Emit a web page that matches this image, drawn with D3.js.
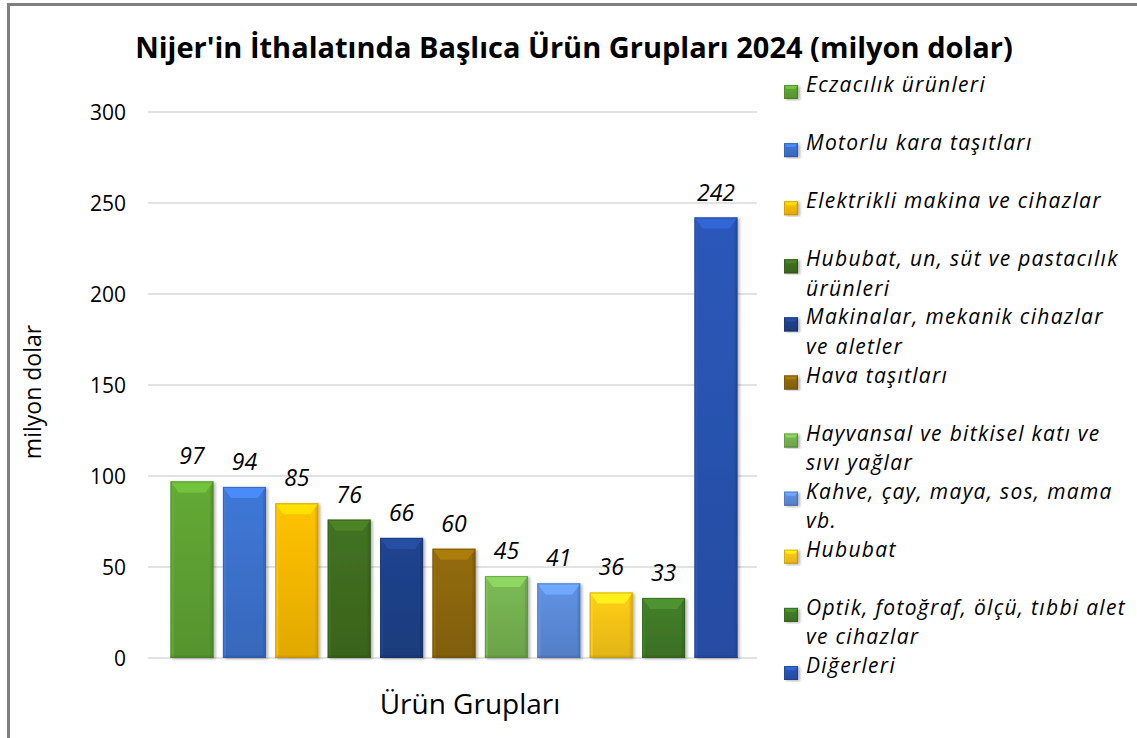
<!DOCTYPE html>
<html><head><meta charset="utf-8">
<script src="https://cdn.jsdelivr.net/npm/d3@7"></script>
<style>
html,body{margin:0;padding:0;background:#fff;}
svg{display:block;}
text{font-family:"Open Sans","Noto Sans",sans-serif;fill:#000;}
</style></head>
<body>
<script>
const categories = ["Eczacılık ürünleri","Motorlu kara taşıtları","Elektrikli makina ve cihazlar","Hububat, un, süt ve pastacılık ürünleri","Makinalar, mekanik cihazlar ve aletler","Hava taşıtları","Hayvansal ve bitkisel katı ve sıvı yağlar","Kahve, çay, maya, sos, mama vb.","Hububat","Optik, fotoğraf, ölçü, tıbbi alet ve cihazlar","Diğerleri"];
const values = [97,94,85,76,66,60,45,41,36,33,242];
const colors = ["#5c9e31","#3b70c9","#f2b600","#3d6a1f","#1e3f85","#8a6508","#73ae4f","#5a88d5","#f3c116","#3f7727","#2852ad"];
const yTicks = [0,50,100,150,200,250,300];
const title = "Nijer'in İthalatında Başlıca Ürün Grupları 2024 (milyon dolar)";
const yTitle = "milyon dolar";
const xTitle = "Ürün Grupları";

const W=1137,H=738;
const svg=d3.select("body").append("svg").attr("width",W).attr("height",H);
const defs=svg.append("defs");
const f=defs.append("filter").attr("id","sh").attr("x","-20%").attr("y","-5%").attr("width","150%").attr("height","115%");
f.append("feDropShadow").attr("dx",2).attr("dy",1).attr("stdDeviation",1.5).attr("flood-color","#000").attr("flood-opacity",0.3);

colors.forEach((c,i)=>{
  const g=defs.append("linearGradient").attr("id","g"+i).attr("x1",0).attr("y1",0).attr("x2",0).attr("y2",1);
  g.append("stop").attr("offset","0%").attr("stop-color",d3.color(c).brighter(0.2));
  g.append("stop").attr("offset","100%").attr("stop-color",d3.color(c).darker(0.2));
});

// border
svg.append("path").attr("d",`M8.5,${H} V4.5 H${W}`).attr("fill","none").attr("stroke","#7f7f7f").attr("stroke-width",3);

const x=d3.scaleBand().domain(categories).range([148,760]).paddingInner(0.18).paddingOuter(0.43);
const y=d3.scaleLinear().domain([0,300]).range([658,112]);

// gridlines
svg.append("g").selectAll("line").data(yTicks).join("line")
 .attr("x1",148).attr("x2",757).attr("y1",d=>y(d)).attr("y2",d=>y(d))
 .attr("stroke","#d9d9d9").attr("stroke-width",1.5);

// y axis labels
const yAxis=d3.axisLeft(y).tickValues(yTicks).tickSize(0).tickPadding(0);
const ya=svg.append("g").attr("transform","translate(126,0)").call(yAxis);
ya.select(".domain").remove();
ya.selectAll("text").attr("font-size",21).attr("font-family","Open Sans").attr("fill","#000").attr("dy","0.35em");

function bevel(g,x0,y0,w,h,i,d,ins,s){
  const c=colors[i];
  g.append("rect").attr("x",x0).attr("y",y0).attr("width",w).attr("height",h).attr("fill",`url(#g${i})`).attr("filter","url(#sh)");
  const light=d3.color(c).brighter(0.6), dark=d3.color(c).darker(0.7), mid=d3.color(c).brighter(0.3);
  const dd=Math.min(d,h/2);
  g.append("rect").attr("x",x0).attr("y",y0).attr("width",s).attr("height",h).attr("fill",mid).attr("opacity",0.7);
  g.append("rect").attr("x",x0+w-s).attr("y",y0).attr("width",s).attr("height",h).attr("fill",dark).attr("opacity",0.35);
  g.append("rect").attr("x",x0).attr("y",y0+h-s*0.8).attr("width",w).attr("height",s*0.8).attr("fill",dark).attr("opacity",0.45);
  g.append("polygon").attr("points",[[x0,y0],[x0+w,y0],[x0+w-ins,y0+dd],[x0+ins,y0+dd]].join(" ")).attr("fill",light);
  g.append("rect").attr("x",x0+0.5).attr("y",y0+0.5).attr("width",w-1).attr("height",h-1).attr("fill","none").attr("stroke",dark).attr("stroke-width",1).attr("opacity",0.6);
}

const bars=svg.append("g");
categories.forEach((cat,i)=>{
  const x0=x(cat), y0=y(values[i]), w=x.bandwidth(), h=y(0)-y0;
  bevel(bars.append("g"),x0,y0,w,h,i,11,8,3);
});

// labels
svg.append("g").selectAll("text").data(values).join("text")
 .attr("x",(d,i)=>x(categories[i])+x.bandwidth()/2).attr("y",d=>y(d)-17)
 .attr("text-anchor","middle").attr("font-size",23).attr("font-style","italic").text(d=>d);

// title
svg.append("text").attr("x",574).attr("y",58).attr("text-anchor","middle").attr("font-size",29).attr("font-weight","bold").text(title);
svg.append("text").attr("transform","translate(41,392) rotate(-90)").attr("text-anchor","middle").attr("font-size",23).text(yTitle);
svg.append("text").attr("x",470).attr("y",714).attr("text-anchor","middle").attr("font-size",28).text(xTitle);

// legend
const lg=svg.append("g");
const maxW=322;
categories.forEach((cat,i)=>{
  const cy=92+i*58.1;
  const g=lg.append("g");
  bevel(g,784,cy-7,14,14,i,4,3,1.5);
  const t=g.append("text").attr("x",806).attr("y",cy).attr("dy","0.35em").attr("font-size",21).attr("letter-spacing","1.3px").attr("font-style","italic");
  const words=cat.split(" ");
  let line=[];
  let ts=t.append("tspan").attr("x",806).attr("dy",0);
  words.forEach(wd=>{
    line.push(wd);
    ts.text(line.join(" "));
    if(ts.node().getComputedTextLength()>maxW && line.length>1){
      line.pop(); ts.text(line.join(" "));
      line=[wd];
      ts=t.append("tspan").attr("x",806).attr("dy",29.5).text(wd);
    }
  });
});
</script>
</body></html>
